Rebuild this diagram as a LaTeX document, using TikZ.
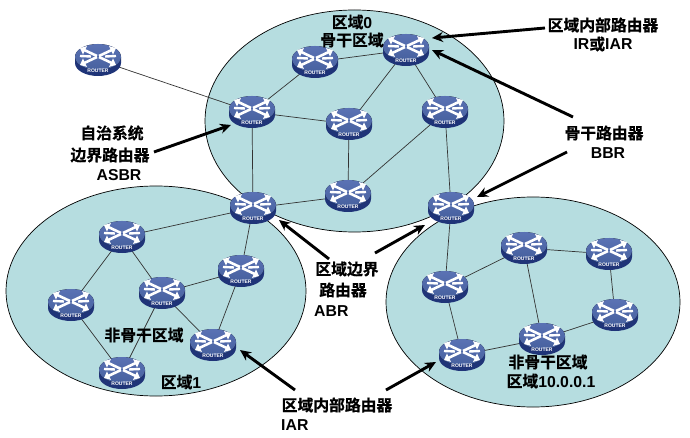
\documentclass[tikz,border=0pt]{standalone}
\usepackage{fontspec}
\setmainfont{Liberation Sans}
\newfontfamily\cjk{Noto Sans CJK SC}[BoldFont={Noto Sans CJK SC Bold},BoldFeatures={FakeBold=0.6}]
\newcommand{\zh}[1]{{\cjk\bfseries #1}}
\usetikzlibrary{shapes.geometric,arrows.meta}
\definecolor{areafill}{HTML}{B6DDE0}
\definecolor{rtop}{HTML}{47619F}
\definecolor{rtoplite}{HTML}{5A72B4}
\definecolor{rside}{HTML}{1F3478}
\tikzset{
  areabg/.style={ellipse,draw=black,line width=0.7pt,fill=areafill,inner sep=0pt},
  routerbox/.style={ellipse,minimum width=46pt,minimum height=30pt,inner sep=0pt},
  wire/.style={draw=black!80,line width=0.7pt},
  callout/.style={draw=black,line width=2.9pt,-{Stealth[length=11pt,width=10pt]}},
  lab/.style={font=\fontsize{15.8}{18}\selectfont\bfseries,text=black,inner sep=0pt,align=center},
  warrow/.style={draw=white,line width=2.6pt,-{Triangle[length=5.5pt,width=9pt]}},
  wstem/.style={draw=white,line width=2.4pt},
  routericon/.pic={
    \fill[rside] (-23,-3) -- (-23,3) arc[start angle=180,end angle=0,x radius=23,y radius=13] -- (23,-3) -- cycle;
    \fill[top color=rtoplite,bottom color=rtop] (0,-3) ellipse[x radius=23,y radius=13];
    \draw[warrow] (-1,-4) -- (-18,-12);
    \draw[warrow] (1,-4) -- (18,-12);
    \draw[warrow] (-1,-3) -- (-18,5);
    \draw[warrow] (1,-3) -- (18,5);
    \draw[wstem] (-18,-4) -- (-7,-3.5);
    \draw[wstem] (18,-4) -- (7,-3.5);
    \node[white,font=\fontsize{5}{5}\selectfont\bfseries,inner sep=0pt] at (0,11) {ROUTER};
  }
}
\begin{document}
\begin{tikzpicture}[x=1pt,y=-1pt]
\useasboundingbox (0,0) rectangle (690,438);
\fill[white] (0,0) rectangle (690,438);
% areas
\node[areabg,minimum width=299pt,minimum height=222pt] (area0) at (354.5,121) {};
\node[areabg,minimum width=300pt,minimum height=210pt] (area1) at (156,291) {};
\node[areabg,minimum width=294pt,minimum height=210pt] (area2) at (533,302) {};
% routers (anchors)
\foreach \n/\x/\y in {z/98/60,a/252/112,b/315/62,c/406/50,d/349/124,e/445/112,f/348/196,g/253/208,h/451/208,
  p/122/237,q/71/305,r/162/293,s/241/271,t/213/345,u/122/373,
  v/524/248,w/609/254,k/445/287,l/615/315,m/542/339,n/462/355}{
  \node[routerbox] (\n) at (\x,\y) {};
}
% connectors
\foreach \i/\j in {z/a,a/b,b/c,a/d,d/c,c/e,a/g,d/f,e/f,e/h,f/g,
  g/p,g/s,p/q,p/r,r/s,r/t,r/u,s/t,q/u,
  h/k,k/v,v/w,w/l,v/m,l/m,m/n,k/n}{
  \draw[wire] (\i) -- (\j);
}
% router icons
\foreach \n in {z,a,b,c,d,e,f,g,h,p,q,r,s,t,u,v,w,k,l,m,n}{
  \pic at (\n) {routericon};
}
% labels
\node[lab] (l1) at (352,22) {\zh{区域}0};
\node[lab] (l2) at (352,40) {\zh{骨干区域}};
\node[lab] (l3) at (603,25) {\zh{区域内部路由器}};
\node[lab] (l4) at (603,44) {IR\zh{或}IAR};
\node[lab] (l5) at (604,133) {\zh{骨干路由器}};
\node[lab] (l6) at (608,153) {BBR};
\node[lab] (l7) at (112,133) {\zh{自治系统}};
\node[lab] (l8) at (110,155) {\zh{边界路由器}};
\node[lab] (l9) at (119,175) {ASBR};
\node[lab] (l10) at (347,269) {\zh{区域边界}};
\node[lab] (l11) at (343,290) {\zh{路由器}};
\node[lab,anchor=west] (l12) at (314,311) {ABR};
\node[lab] (l13) at (144,335) {\zh{非骨干区域}};
\node[lab] (l14) at (181,382) {\zh{区域}1};
\node[lab] (l15) at (337,405) {\zh{区域内部路由器}};
\node[lab,anchor=west] (l16) at (281,425) {IAR};
\node[lab] (l17) at (548,362) {\zh{非骨干区域}};
\node[lab] (l18) at (551,381) {\zh{区域}10.0.0.1};
% callout arrows
\coordinate (t1a) at (545,28);  \coordinate (t1b) at (432,38);
\coordinate (t2a) at (573,117); \coordinate (t2b) at (432,50);
\coordinate (t3a) at (567,152); \coordinate (t3b) at (477,197);
\coordinate (t4a) at (154,152); \coordinate (t4b) at (231,125);
\coordinate (t5a) at (329,259); \coordinate (t5b) at (279,220);
\coordinate (t6a) at (375,253); \coordinate (t6b) at (425,225);
\coordinate (t7a) at (295,390); \coordinate (t7b) at (240,350);
\coordinate (t8a) at (386,390); \coordinate (t8b) at (436,362);
\foreach \k in {1,...,8}{ \draw[callout] (t\k a) -- (t\k b); }
\end{tikzpicture}
\end{document}
